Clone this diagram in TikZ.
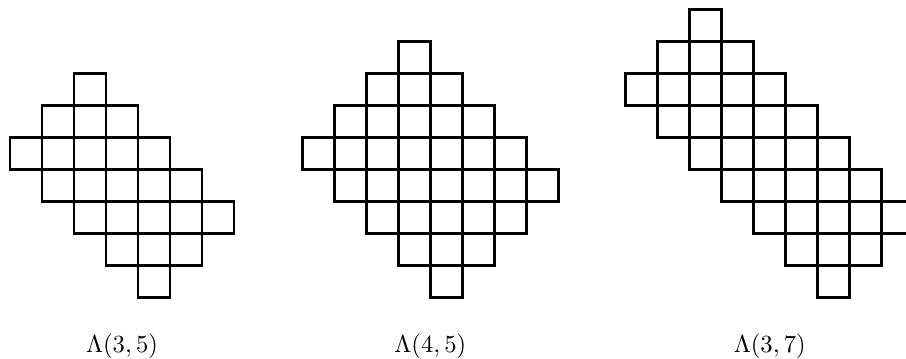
\documentclass[tikz,border=0pt]{standalone}
\usepackage{tikz}

\begin{document}
\begin{tikzpicture}[
  cell/.style={draw=black,line width=1.2pt},
  caption/.style={anchor=base,inner sep=0pt,font=\fontsize{11.3}{13}\selectfont}
]
\useasboundingbox (0,0) rectangle (14.156,5.594);
% Lambda(3,5): rows from the bottom, first/last column
\begin{scope}[shift={(0.156cm,0.95cm)},x=0.5cm,y=0.5cm]
  \foreach \r/\a/\b in {0/4/4,1/3/5,2/2/6,3/1/5,4/0/4,5/1/3,6/2/2}
    \foreach \c in {\a,...,\b}
      \draw[cell] (\c,\r) rectangle ++(1,1);
\end{scope}
% Lambda(4,5)
\begin{scope}[shift={(4.723cm,0.95cm)},x=0.5cm,y=0.5cm]
  \foreach \r/\a/\b in {0/4/4,1/3/5,2/2/6,3/1/7,4/0/6,5/1/5,6/2/4,7/3/3}
    \foreach \c in {\a,...,\b}
      \draw[cell] (\c,\r) rectangle ++(1,1);
\end{scope}
% Lambda(3,7)
\begin{scope}[shift={(9.777cm,0.95cm)},x=0.5cm,y=0.5cm]
  \foreach \r/\a/\b in {0/6/6,1/5/7,2/4/8,3/3/7,4/2/6,5/1/5,6/0/4,7/1/3,8/2/2}
    \foreach \c in {\a,...,\b}
      \draw[cell] (\c,\r) rectangle ++(1,1);
\end{scope}
\node[caption] (capa) at (1.906,0.094) {$\Lambda(3,5)$};
\node[caption] (capb) at (6.723,0.094) {$\Lambda(4,5)$};
\node[caption] (capc) at (12.027,0.094) {$\Lambda(3,7)$};
\end{tikzpicture}
\end{document}
